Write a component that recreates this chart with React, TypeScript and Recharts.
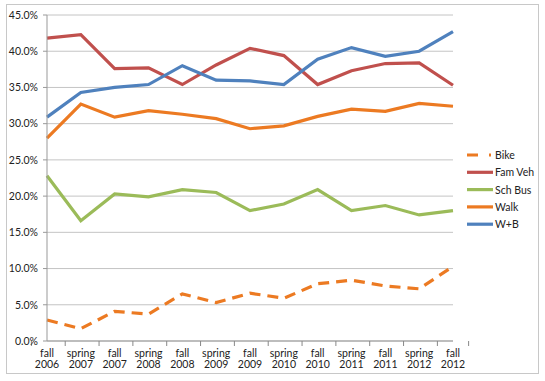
import React from 'react';
import { LineChart, Line, XAxis, YAxis, CartesianGrid } from 'recharts';

const seasons = ['fall', 'spring', 'fall', 'spring', 'fall', 'spring', 'fall', 'spring', 'fall', 'spring', 'fall', 'spring', 'fall'];
const years = ['2006', '2007', '2007', '2008', '2008', '2009', '2009', '2010', '2010', '2011', '2011', '2012', '2012'];
const bike = [2.9, 1.7, 4.1, 3.7, 6.5, 5.3, 6.6, 5.9, 7.9, 8.4, 7.6, 7.2, 10.3];
const famVeh = [41.8, 42.3, 37.6, 37.7, 35.4, 38.1, 40.4, 39.4, 35.4, 37.3, 38.3, 38.4, 35.3];
const schBus = [22.8, 16.6, 20.3, 19.9, 20.9, 20.5, 18.0, 18.9, 20.9, 18.0, 18.7, 17.4, 18.0];
const walk = [28.0, 32.7, 30.9, 31.8, 31.3, 30.7, 29.3, 29.7, 31.0, 32.0, 31.7, 32.8, 32.4];
const wb = [30.9, 34.3, 35.0, 35.4, 38.0, 36.0, 35.9, 35.4, 38.9, 40.5, 39.3, 40.0, 42.7];
const yTicks = [0, 5, 10, 15, 20, 25, 30, 35, 40, 45];

const data = seasons.map((s, i) => ({
  label: s + '\n' + years[i],
  season: s,
  year: years[i],
  Bike: bike[i],
  'Fam Veh': famVeh[i],
  'Sch Bus': schBus[i],
  Walk: walk[i],
  'W+B': wb[i],
}));

const ORANGE = '#EC7A22';
const RED = '#C0504D';
const GREEN = '#9BBB59';
const BLUE = '#4F81BD';
const FONT = 'Lato, "Open Sans", sans-serif';
const TEXT = '#222';

const W = 545;
const H = 381;
const XH = 30;
const M = { top: 15, right: 92, bottom: 40 - XH, left: 0 };
const YW = 47;
const plotW = W - M.left - M.right - YW;
const band = plotW / seasons.length;

const XTick = (props: any) => {
  const { x, y, index } = props;
  const d = data[index];
  const half = band / 2;
  return (
    <g>
      <line x1={x - half} x2={x - half} y1={y} y2={y + 5} stroke="#888" />
      {index === seasons.length - 1 && <line x1={x + half} x2={x + half} y1={y} y2={y + 5} stroke="#888" />}
      <text x={x} y={y + 16} textAnchor="middle" fontSize={10.5} fontFamily={FONT} fill={TEXT}>{d.season}</text>
      <text x={x} y={y + 27} textAnchor="middle" fontSize={10.5} fontFamily={FONT} fill={TEXT}>{d.year}</text>
    </g>
  );
};

const legendItems = [
  { name: 'Bike', color: ORANGE, dash: true },
  { name: 'Fam Veh', color: RED },
  { name: 'Sch Bus', color: GREEN },
  { name: 'Walk', color: ORANGE },
  { name: 'W+B', color: BLUE },
];

export default function App() {
  return (
    <div style={{ position: 'absolute', left: 0, top: 0, width: W, height: H, background: '#fff' }}>
      <div style={{ position: 'absolute', left: 6, top: 4, width: 533, height: 370, border: '1px solid #c8c8c8', boxSizing: 'border-box' }} />
      <LineChart width={W} height={H} data={data} margin={M}>
        <CartesianGrid vertical={false} stroke="#c4c4c4" strokeWidth={1} />
        <XAxis
          dataKey="label"
          height={XH}
          interval={0}
          tickLine={false}
          tickSize={0}
          tickMargin={0}
          tick={<XTick />}
          stroke="#999"
        />
        <YAxis
          width={YW}
          domain={[0, 45]}
          ticks={yTicks}
          interval={0}
          tickFormatter={(v: number) => v.toFixed(1) + '%'}
          tickSize={4}
          tickMargin={5}
          stroke="#999"
          tick={{ fontSize: 10.5, fontFamily: FONT, fill: TEXT }}
        />
        <Line dataKey="Bike" stroke={ORANGE} strokeWidth={3.2} strokeDasharray="11 7" dot={false} isAnimationActive={false} />
        <Line dataKey="Fam Veh" stroke={RED} strokeWidth={3.2} dot={false} isAnimationActive={false} />
        <Line dataKey="Sch Bus" stroke={GREEN} strokeWidth={3.2} dot={false} isAnimationActive={false} />
        <Line dataKey="Walk" stroke={ORANGE} strokeWidth={3.2} dot={false} isAnimationActive={false} />
        <Line dataKey="W+B" stroke={BLUE} strokeWidth={3.2} dot={false} isAnimationActive={false} />
      </LineChart>
      <svg style={{ position: 'absolute', left: 465, top: 147 }} width={80} height={95}>
        {legendItems.map((it, i) => (
          <g key={it.name}>
            <line x1={2} x2={28} y1={8 + i * 17.3} y2={8 + i * 17.3} stroke={it.color} strokeWidth={3.2} strokeDasharray={it.dash ? '11 11 2 5' : undefined} />
            <text x={30} y={12 + i * 17.3} fontSize={10.5} fontFamily={FONT} fill={TEXT}>{it.name}</text>
          </g>
        ))}
      </svg>
    </div>
  );
}
